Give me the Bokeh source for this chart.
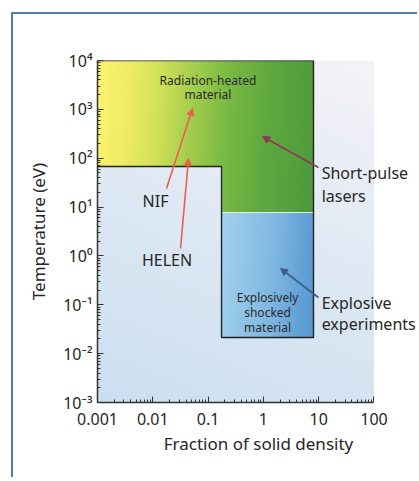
import numpy as np
from bokeh.plotting import figure
from bokeh.models import FixedTicker, Label, Arrow, NormalHead, Range1d
from bokeh.core.properties import value
from bokeh.embed import file_html
from bokeh.resources import INLINE

# ---------------- data ----------------
x_ticks = [0.001, 0.01, 0.1, 1, 10, 100]
x_tick_labels = ["0.001", "0.01", "0.1", "1", "10", "100"]
y_ticks = [1e-3, 1e-2, 1e-1, 1, 10, 100, 1e3, 1e4]
y_tick_labels = ["10⁻³", "10⁻²", "10⁻¹", "10⁰", "10¹", "10²", "10³", "10⁴"]

# regions: fraction of solid density (x) vs temperature in eV (y)
rad_x = [0.001, 8.05]        # radiation-heated material
rad_y = [7.74, 1e4]
low_x = [0.001, 0.175]       # region reached by NIF / HELEN (cut out of green)
low_y = [1e-3, 67.8]
shock_x = [0.175, 8.05]      # explosively shocked material
shock_y = [0.0214, 7.74]

outline_x = [0.001, 0.175, 0.175, 8.05, 8.05, 0.001]
outline_y = [67.8, 67.8, 0.0214, 0.0214, 1e4, 1e4]

inner_text = ["Radiation-heated", "material", "Explosively", "shocked", "material"]
inner_x = [0.0995, 0.0995, 1.19, 1.19, 1.19]
inner_y = [3899, 2014, 0.143, 0.0686, 0.0347]

label_text = ["NIF", "HELEN"]
label_x = [0.0112, 0.0181]
label_y = [13.6, 0.807]

side_text = ["Short-pulse", "lasers", "Explosive", "experiments"]
side_x = [11.3, 11.3, 11.3, 11.3]
side_y = [51.0, 16.5, 0.1064, 0.0395]

arrow_x0 = [0.0177, 0.0317, 9.9, 9.9]
arrow_y0 = [24.0, 1.42, 64.6, 0.141]
arrow_x1 = [0.0522, 0.0443, 0.964, 2.04]
arrow_y1 = [1043, 98.6, 278, 0.553]
arrow_colors = ["#e8604e", "#e8604e", "#8c3a55", "#3c5c8e"]

DATA_X = (0.001, 100)     # extent of the chart's axis
X_VIEW = (0.001, 665)     # frame extends to the right so side labels are visible
Y_RANGE = (1e-3, 1e4)

FONT = "Noto Sans"
TXT = "#262626"

p = figure(width=406, height=465, x_axis_type="log", y_axis_type="log",
           x_range=Range1d(*X_VIEW), y_range=Range1d(*Y_RANGE),
           output_backend="svg", toolbar_location=None,
           min_border_left=84, min_border_right=0, min_border_top=46, min_border_bottom=77)
p.margin = (12, 0, 0, 11)
p.styles = {"border-left": "2px solid #4f7fb0", "border-top": "2px solid #4f7fb0"}
p.outline_line_color = None
p.xgrid.visible = False
p.ygrid.visible = False
p.background_fill_color = "white"
p.border_fill_color = "white"


def gradient_image(lx0, lx1, ly0, ly1, color_fn, nx=200, ny=200, mask_fn=None):
    img = np.zeros((ny, nx), dtype=np.uint32)
    v = img.view(dtype=np.uint8).reshape((ny, nx, 4))
    xf = (np.arange(nx) + 0.5) / nx
    yf = (np.arange(ny) + 0.5) / ny
    XF, YF = np.meshgrid(xf, yf)
    r, g, b = color_fn(XF, YF)
    v[..., 0] = r
    v[..., 1] = g
    v[..., 2] = b
    a = np.full((ny, nx), 255, dtype=np.uint8)
    if mask_fn is not None:
        LX = lx0 + XF * (lx1 - lx0)
        LY = ly0 + YF * (ly1 - ly0)
        a[mask_fn(LX, LY)] = 0
    v[..., 3] = a
    return img


def stops_fn(stops, tfun):
    ts = [s[0] for s in stops]
    def f(XF, YF):
        t = np.clip(tfun(XF, YF), 0, 1)
        return [np.interp(t, ts, [s[1][i] for s in stops]) for i in range(3)]
    return f


# background of the chart area (whiter at top right, bluer at bottom left)
bg_fn = stops_fn([(0, (204, 223, 240)), (0.5, (222, 233, 244)), (1, (246, 243, 247))],
                 lambda X, Y: 0.75 * Y + 0.25 * X)
bg = gradient_image(np.log10(DATA_X[0]), np.log10(DATA_X[1]),
                    np.log10(Y_RANGE[0]), np.log10(Y_RANGE[1]), bg_fn)
p.image_rgba(image=[bg], x=DATA_X[0], y=Y_RANGE[0],
             dw=DATA_X[1] - DATA_X[0], dh=Y_RANGE[1] - Y_RANGE[0])

# radiation-heated (yellow -> green)
green_fn = stops_fn([(0, (248, 242, 108)), (0.1, (240, 236, 100)), (0.25, (210, 224, 90)),
                     (0.4, (164, 206, 78)), (0.55, (124, 187, 68)), (0.75, (96, 169, 64)),
                     (1, (78, 153, 62))],
                    lambda X, Y: X - 0.05 * Y)
lx0, lx1 = np.log10(rad_x[0]), np.log10(rad_x[1])
ly0, ly1 = np.log10(rad_y[0]), np.log10(rad_y[1])
green = gradient_image(lx0, lx1, ly0, ly1, green_fn,
                       mask_fn=lambda LX, LY: (LX < np.log10(low_x[1])) & (LY < np.log10(low_y[1])))
p.image_rgba(image=[green], x=rad_x[0], y=rad_y[0],
             dw=rad_x[1] - rad_x[0], dh=rad_y[1] - rad_y[0])

# explosively shocked (light blue -> blue)
blue_fn = stops_fn([(0, (164, 210, 238)), (0.5, (128, 184, 226)), (1, (76, 144, 204))],
                   lambda X, Y: 0.85 * X + 0.075 * (1 - Y))
blue = gradient_image(np.log10(shock_x[0]), np.log10(shock_x[1]),
                      np.log10(shock_y[0]), np.log10(shock_y[1]), blue_fn)
p.image_rgba(image=[blue], x=shock_x[0], y=shock_y[0],
             dw=shock_x[1] - shock_x[0], dh=shock_y[1] - shock_y[0])

# thin light seam between green and blue
p.line(x=shock_x, y=[shock_y[1], shock_y[1]], line_color="#e2ece0", line_width=1.2)

# black outline
p.line(x=outline_x, y=outline_y, line_color="#222222", line_width=1.4)

# inner small texts
p.text(x=inner_x, y=inner_y, text=inner_text, text_font=value(FONT),
       text_font_size="12px", text_color="#2a2a2a", text_align="center",
       text_baseline="middle")

# arrows
for x0, y0, x1, y1, c in zip(arrow_x0, arrow_y0, arrow_x1, arrow_y1, arrow_colors):
    p.add_layout(Arrow(x_start=x0, y_start=y0, x_end=x1, y_end=y1,
                       line_color=c, line_width=1.6,
                       end=NormalHead(size=7, fill_color=c, line_color=c)))

# NIF / HELEN
for t, x, y in zip(label_text, label_x, label_y):
    p.add_layout(Label(x=x, y=y, text=t, text_font=FONT, text_font_size="16px",
                       text_color=TXT, text_align="center", text_baseline="middle"))

# side labels
for t, x, y in zip(side_text, side_x, side_y):
    p.add_layout(Label(x=x, y=y, text=t, text_font=FONT, text_font_size="16px",
                       text_color=TXT, text_align="left", text_baseline="middle"))

# axes
p.xaxis.ticker = FixedTicker(ticks=x_ticks,
                             minor_ticks=[m * 10.0 ** k for k in range(-3, 2) for m in range(2, 10)])
p.yaxis.ticker = FixedTicker(ticks=y_ticks,
                             minor_ticks=[m * 10.0 ** k for k in range(-3, 4) for m in range(2, 10)])
p.xaxis.major_label_overrides = {t: l for t, l in zip(x_ticks, x_tick_labels)}
p.yaxis.major_label_overrides = {t: l for t, l in zip(y_ticks, y_tick_labels)}
p.xaxis.bounds = DATA_X

for ax in (p.xaxis, p.yaxis):
    ax.axis_line_color = "#333333"
    ax.axis_line_width = 1.5
    ax.major_tick_in = 6
    ax.major_tick_out = 0
    ax.minor_tick_in = 3
    ax.minor_tick_out = 0
    ax.major_tick_line_color = "#333333"
    ax.minor_tick_line_color = "#333333"
    ax.major_label_text_font = FONT
    ax.major_label_text_font_size = "16px"
    ax.major_label_text_color = TXT
    ax.axis_label_text_font = FONT
    ax.axis_label_text_font_size = "17px"
    ax.axis_label_text_font_style = "normal"
    ax.axis_label_text_color = TXT

p.xaxis.axis_label = "Fraction of solid density"
p.yaxis.axis_label = "Temperature (eV)"
p.xaxis.major_label_standoff = 10
p.yaxis.major_label_standoff = 5
p.xaxis.axis_label_standoff = 4
p.yaxis.axis_label_standoff = 10

open("out.html", "w").write(file_html(p, INLINE))
